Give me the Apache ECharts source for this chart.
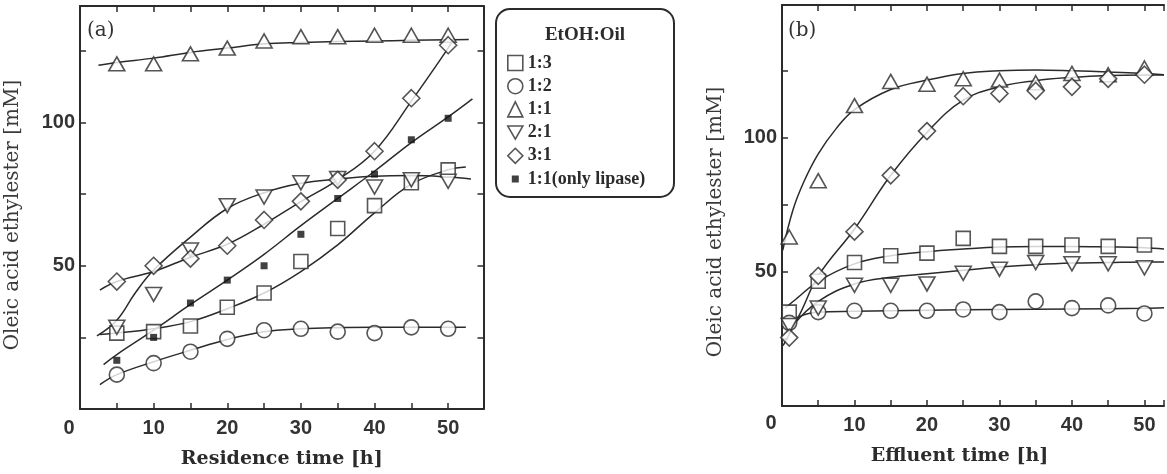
<!DOCTYPE html>
<html>
<head>
<meta charset="utf-8">
<script src="https://cdn.jsdelivr.net/npm/echarts@6/dist/echarts.min.js"></script>
<style>
  html, body { margin: 0; padding: 0; background: #fff; }
  #chart { width: 1167px; height: 474px; }
</style>
</head>
<body>
<div id="chart"></div>
<script>
  // panel (a): residence time
  const xA = [5, 10, 15, 20, 25, 30, 35, 40, 45, 50];
  const a13 = [26.5, 27, 29, 35.5, 40.5, 51.5, 63, 71, 79, 83.5];
  const a12 = [12, 16, 20, 24.5, 27.5, 28, 27, 26.5, 28.5, 28];
  const a11 = [120.5, 120.5, 124, 126, 128.5, 130, 130, 130.5, 130.5, 130.5];
  const a21 = [28.5, 40, 55.5, 71, 74, 79, 80.5, 77.5, 80, 79.5];
  const a31 = [44.5, 50, 52.5, 57, 66, 72.5, 80, 90, 108.5, 127];
  const aLip = [17, 25, 37, 45, 50, 61, 73.5, 82, 94, 101.5];

  // fitted curves of panel (a)
  const fitA13 = [[2.7, 26], [5, 26.5], [10, 28], [15, 30.5], [20, 35], [25, 40.5], [30, 48], [35, 57.3], [40, 68.5], [45, 78.5], [50, 83.5], [52.4, 84.5]];
  const fitA12 = [[2.7, 8.5], [5, 12], [10, 16.5], [15, 20.5], [20, 24.3], [25, 27], [30, 28], [35, 28.4], [40, 28.5], [45, 28.5], [50, 28.5], [52.4, 28.5]];
  const fitA11 = [[2.5, 120], [5, 121], [10, 122.5], [15, 124.5], [20, 126], [25, 127.5], [30, 128], [35, 128.3], [40, 128.5], [45, 128.7], [50, 128.9], [52.8, 129]];
  const fitA21 = [[2.3, 25.5], [5, 31], [7.5, 40.5], [10, 48.5], [15, 60], [20, 70], [25, 75.5], [30, 78.8], [35, 80.3], [40, 81.3], [45, 81.5], [50, 81], [53.1, 80.3]];
  const fitA31 = [[2.7, 41.5], [5, 44.5], [10, 48], [15, 53], [20, 57.5], [25, 64.5], [30, 72.4], [35, 80], [40, 90], [45, 107.5], [50, 126], [50.8, 129.5]];
  const fitALip = [[3.2, 15.5], [5, 19], [10, 27.5], [15, 36.5], [20, 45], [25, 54], [30, 64], [35, 73.5], [40, 83], [45, 93], [50, 102], [53.3, 108.3]];

  // panel (b): effluent time
  const xB = [1, 5, 10, 15, 20, 25, 30, 35, 40, 45, 50];
  const b13 = [35, 46.5, 53.5, 56, 57, 62.5, 59.5, 59.5, 60, 59.5, 60];
  const b12 = [31, 35, 35.5, 35.5, 35.5, 36, 35, 39, 36.5, 37.5, 34.5];
  const b11 = [63, 84, 112, 121, 120, 122, 121.5, 120.5, 124, 123.5, 126];
  const b21 = [30, 36.5, 45, 45, 45.5, 49.5, 51, 53.5, 53, 53, 51.5];
  const b31 = [25.5, 48.5, 65, 86, 102.5, 115.5, 116.5, 117.5, 119, 122, 123.5];

  const fitB11 = [[0.1, 58], [1.5, 73], [3, 83.5], [5, 94], [7.5, 103.5], [10, 110.5], [15, 118], [20, 121.5], [25, 124], [30, 125], [35, 125.3], [40, 125], [45, 124.5], [50, 124], [52.7, 123.5]];
  const fitB31 = [[0.15, 22.5], [2.6, 35], [5, 48.5], [10, 66], [15, 86], [20, 102], [25, 114], [30, 119], [35, 121.3], [40, 122.5], [45, 123.2], [50, 123.4], [52.7, 123.4]];
  const fitB13 = [[0.4, 36.5], [2, 40], [5, 46.5], [10, 53], [15, 56], [20, 57.5], [25, 58.5], [30, 59.3], [35, 59.5], [40, 59.5], [45, 59.3], [50, 59], [52.7, 58.5]];
  const fitB21 = [[1.5, 30], [5, 39], [10, 45.5], [15, 48], [20, 49.3], [25, 50.6], [30, 51.8], [35, 52.7], [40, 53.3], [45, 53.5], [50, 53.7], [52.7, 53.7]];
  const fitB12 = [[0.15, 30.5], [2, 33], [5, 35], [10, 35.3], [20, 35.7], [30, 36], [40, 36.2], [50, 36.4], [52.7, 36.6]];

  const legendNames = ['1:3', '1:2', '1:1', '2:1', '3:1', '1:1(only lipase)'];

  const ink = '#2b2b2b';
  const downTri = 'path://M0,0L16,0L8,14Z';
  // small filled square inside an empty 15x15 frame, so the legend keeps it small
  const smallSq = 'path://M0,0M15,15M4,4L11,4L11,11L4,11Z';
  const tickFont = { fontFamily: 'Liberation Sans', fontWeight: 'bold', fontSize: 20, color: '#333' };
  const titleFont = { fontFamily: 'DejaVu Serif', fontWeight: 'bold', fontSize: 19, color: ink };

  function xAx(grid, pos, max, labels, name, pad) {
    return {
      type: 'value', gridIndex: grid, position: pos, min: 0, max: max, interval: 5,
      name: name || '', nameLocation: 'middle', nameGap: 41,
      nameTextStyle: Object.assign({ padding: pad || 0 }, titleFont),
      axisLine: { show: true, onZero: false, lineStyle: { color: ink, width: 2 } },
      axisTick: { show: true, inside: true, length: 6, lineStyle: { color: ink, width: 1.5 } },
      splitLine: { show: false },
      axisLabel: Object.assign({
        show: labels, margin: 9,
        formatter: function (v) { return (v % 10 === 0 && v > 0 && v <= 50) ? String(v) : ''; }
      }, tickFont)
    };
  }
  function yAx(grid, pos, max, labels) {
    return {
      type: 'value', gridIndex: grid, position: pos, min: 0, max: max, interval: 25,
      axisLine: { show: true, onZero: false, lineStyle: { color: ink, width: 2 } },
      axisTick: { show: true, inside: true, length: 6, lineStyle: { color: ink, width: 1.5 } },
      splitLine: { show: false },
      axisLabel: Object.assign({
        show: labels, margin: 5,
        formatter: function (v) { return (v === 50 || v === 100) ? String(v) : ''; }
      }, tickFont)
    };
  }
  function fit(name, data, xi, yi) {
    return {
      name: name + ' fit', type: 'line', xAxisIndex: xi, yAxisIndex: yi, data: data,
      smooth: 0.4, symbol: 'none', showSymbol: false, silent: true, z: 2,
      lineStyle: { color: ink, width: 1.5 }
    };
  }
  function pts(name, xs, ys, sym, size, xi, yi, filled) {
    return {
      name: name, type: 'scatter', xAxisIndex: xi, yAxisIndex: yi,
      data: xs.map(function (x, i) { return [x, ys[i]]; }),
      symbol: sym, symbolSize: size, z: 3,
      itemStyle: filled ? { color: '#111', borderWidth: 0 } : { color: '#fff', borderColor: ink, borderWidth: 1.6 }
    };
  }

  const chart = echarts.init(document.getElementById('chart'));
  chart.setOption({
    animation: false,
    backgroundColor: '#fff',
    grid: [
      { left: 80, top: 6, right: 683.5, bottom: 63.5 },
      { left: 782, top: 5, right: 0, bottom: 68 }
    ],
    xAxis: [
      xAx(0, 'bottom', 54.8, true, 'Residence time [h]'),
      xAx(0, 'top', 54.8, false),
      xAx(1, 'bottom', 52.7, true, 'Effluent time [h]', [0, 27, 0, 0]),
      xAx(1, 'top', 52.7, false)
    ],
    yAxis: [
      yAx(0, 'left', 140.7, true),
      yAx(0, 'right', 140.7, false),
      yAx(1, 'left', 149.5, true)
    ],
    legend: {
      orient: 'vertical', left: 507, top: 54, padding: 0,
      itemWidth: 15, itemHeight: 15, itemGap: 5.2, itemTextGap: 14,
      selectedMode: false,
      textStyle: { fontFamily: 'Liberation Serif', fontWeight: 'bold', fontSize: 18, color: ink },
      itemStyle: { color: '#fff', borderColor: ink, borderWidth: 1.6 },
      data: [
        { name: legendNames[0], icon: 'rect' },
        { name: legendNames[1], icon: 'circle' },
        { name: legendNames[2], icon: 'triangle' },
        { name: legendNames[3], icon: downTri },
        { name: legendNames[4], icon: 'diamond' },
        { name: legendNames[5], icon: smallSq, itemStyle: { color: '#111', borderWidth: 0 } }
      ]
    },
    graphic: [
      { type: 'rect', shape: { x: 496, y: 9, width: 178, height: 188, r: 14 },
        style: { fill: 'none', stroke: ink, lineWidth: 2 } },
      { type: 'text', x: 585, y: 35,
        style: { text: 'EtOH:Oil', fill: ink, font: 'bold 19px "Liberation Serif"', align: 'center', verticalAlign: 'middle' } },
      { type: 'text', x: 87, y: 31,
        style: { text: '(a)', fill: '#333', font: '20px "DejaVu Serif"', align: 'left', verticalAlign: 'middle' } },
      { type: 'text', x: 788, y: 31,
        style: { text: '(b)', fill: '#333', font: '20px "DejaVu Serif"', align: 'left', verticalAlign: 'middle' } },
      { type: 'text', x: 13, y: 215, rotation: Math.PI / 2,
        style: { text: 'Oleic acid ethylester [mM]', fill: '#3a3a3a', font: '20px "DejaVu Serif"', align: 'center', verticalAlign: 'middle' } },
      { type: 'text', x: 716, y: 222, rotation: Math.PI / 2,
        style: { text: 'Oleic acid ethylester [mM]', fill: '#3a3a3a', font: '20px "DejaVu Serif"', align: 'center', verticalAlign: 'middle' } },
      { type: 'text', x: 69, y: 428.5,
        style: { text: '0', fill: '#333', font: 'bold 20px "Liberation Sans"', align: 'center', verticalAlign: 'middle' } },
      { type: 'text', x: 771, y: 423.5,
        style: { text: '0', fill: '#333', font: 'bold 20px "Liberation Sans"', align: 'center', verticalAlign: 'middle' } }
    ],
    series: [
      fit('1:3', fitA13, 0, 0),
      fit('1:2', fitA12, 0, 0),
      fit('1:1', fitA11, 0, 0),
      fit('2:1', fitA21, 0, 0),
      fit('3:1', fitA31, 0, 0),
      fit('lipase', fitALip, 0, 0),
      pts(legendNames[0], xA, a13, 'rect', 14, 0, 0),
      pts(legendNames[1], xA, a12, 'circle', 15, 0, 0),
      pts(legendNames[2], xA, a11, 'triangle', [16, 14], 0, 0),
      pts(legendNames[3], xA, a21, downTri, [16, 14], 0, 0),
      pts(legendNames[4], xA, a31, 'diamond', 17, 0, 0),
      pts(legendNames[5], xA, aLip, 'rect', 7, 0, 0, true),

      fit('b1:3', fitB13, 2, 2),
      fit('b1:2', fitB12, 2, 2),
      fit('b1:1', fitB11, 2, 2),
      fit('b2:1', fitB21, 2, 2),
      fit('b3:1', fitB31, 2, 2),
      pts(legendNames[0], xB, b13, 'rect', 14, 2, 2),
      pts(legendNames[1], xB, b12, 'circle', 15, 2, 2),
      pts(legendNames[2], xB, b11, 'triangle', [16, 14], 2, 2),
      pts(legendNames[3], xB, b21, downTri, [16, 14], 2, 2),
      pts(legendNames[4], xB, b31, 'diamond', 17, 2, 2)
    ]
  });
</script>
</body>
</html>
